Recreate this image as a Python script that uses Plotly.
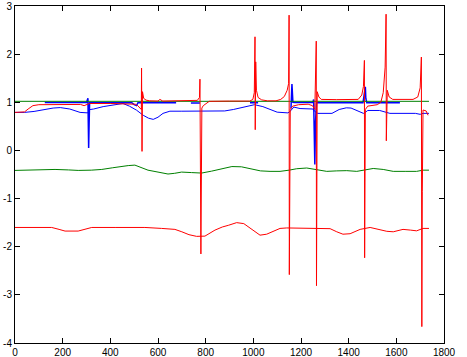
import plotly.graph_objects as go

# ---- data ----
green_low_x = [0, 50, 100, 168, 225, 265, 320, 364, 410, 447, 475, 503, 530, 558, 600, 642, 670, 699, 740, 783,
               825, 867, 910, 950, 990, 1030, 1070, 1112, 1150, 1182, 1224, 1266, 1308, 1350, 1392, 1434, 1476,
               1503, 1545, 1587, 1640, 1685, 1712, 1737]
green_low_y = [-0.415, -0.41, -0.40, -0.395, -0.405, -0.415, -0.41, -0.395, -0.36, -0.33, -0.315, -0.305, -0.35,
               -0.41, -0.45, -0.49, -0.475, -0.45, -0.46, -0.47, -0.43, -0.38, -0.335, -0.34, -0.38, -0.425,
               -0.435, -0.435, -0.41, -0.38, -0.365, -0.40, -0.435, -0.425, -0.42, -0.435, -0.395, -0.375,
               -0.395, -0.435, -0.435, -0.435, -0.41, -0.41]

red_low_x = [0, 154, 185, 210, 265, 300, 322, 420, 545, 615, 671, 700, 730, 762, 797, 839, 870, 895, 930, 960,
             990, 1028, 1056, 1085, 1112, 1140, 1322, 1350, 1376, 1406, 1448, 1490, 1531, 1560, 1587, 1628,
             1660, 1685, 1712, 1737]
red_low_y = [-1.60, -1.60, -1.64, -1.675, -1.675, -1.63, -1.60, -1.60, -1.60, -1.62, -1.64, -1.69, -1.75, -1.785,
             -1.78, -1.655, -1.59, -1.556, -1.50, -1.52, -1.62, -1.76, -1.74, -1.67, -1.62, -1.61, -1.625,
             -1.69, -1.74, -1.73, -1.64, -1.60, -1.655, -1.68, -1.69, -1.64, -1.655, -1.67, -1.62, -1.62]

blue_mid_x = [0, 40, 80, 120, 160, 190, 230, 273, 305, 315, 330, 370, 411, 453, 480, 510, 538, 560, 580, 600,
              621, 650, 700, 846, 880, 916, 950, 980, 1005, 1040, 1075, 1100, 1145, 1152, 1170, 1196, 1250,
              1260, 1270, 1330, 1360, 1390, 1410, 1440, 1462, 1472, 1480, 1530, 1573, 1680, 1700, 1712, 1737]
blue_mid_y = [0.79, 0.79, 0.81, 0.85, 0.88, 0.89, 0.86, 0.79, 0.78, 0.85, 0.86, 0.91, 0.94, 0.975, 0.92, 0.836,
              0.73, 0.67, 0.645, 0.69, 0.77, 0.815, 0.815, 0.81, 0.82, 0.85, 0.89, 0.93, 0.95, 0.91, 0.84, 0.795,
              0.78, 0.80, 0.90, 0.87, 0.86, 0.80, 0.77, 0.77, 0.85, 0.885, 0.88, 0.81, 0.77, 0.80, 0.83, 0.83,
              0.77, 0.77, 0.75, 0.77, 0.77]

blue_top_x = [125, 200, 300, 306, 309, 311, 313, 320, 400, 490, 500, 510, 516, 524, 600, 676, None, 738, 776,
              None, 986, 1020, None, 1158, 1162, 1166, 1175, 1208, 1225, 1250, 1253, 1256, 1258, 1261, 1265,
              1300, 1460, 1470, 1472, 1476, 1615]
blue_top_y = [0.995, 0.995, 0.995, 1.085, 0.05, 0.56, 0.99, 0.99, 0.99, 0.99, 0.95, 0.93, 0.99, 0.99, 0.99,
              0.99, None, 0.985, 0.985, None, 0.99, 0.99, None, 0.87, 1.38, 1.0, 0.995, 0.995, 0.995, 0.995,
              1.06, 0.32, -0.29, 0.6, 0.99, 0.99, 0.99, 1.32, 1.08, 0.99, 0.99]

green_top_x = [0, 1737]
green_top_y = [1.02, 1.02]

red_top_x = [0, 20, 40, 55, 75, 100, 170, 275, 290, 300, 312, 400, 490, 505, 515, 525, 530, 531, 533, 535, 540,
             550, 565, 600, 608, 620, 740, 765, 774, 776, 780, 782, 784, 790, 800, 815, 900, 985, 998, 1004,
             1007, 1008, 1010, 1013, 1020, 1035, 1060, 1095, 1115, 1130, 1142, 1148, 1150, 1151, 1153, 1155,
             1165, 1190, 1230, 1248, 1258, 1264, 1265, 1268, 1275, 1285, 1350, 1410, 1425, 1440, 1455, 1462,
             1466, 1467, 1470, 1480, 1520, 1535, 1545, 1553, 1557, 1558, 1562, 1570, 1585, 1670, 1690, 1700,
             1705, 1707, 1709, 1712, 1725, 1733]
red_top_y = [0.79, 0.79, 0.80, 0.86, 0.93, 0.95, 0.955, 0.955, 0.93, 0.95, 0.975, 0.975, 0.975, 0.96, 0.93,
             0.88, 0.85, 1.71, -0.02, 1.22, 1.08, 1.045, 1.03, 1.025, 1.06, 1.025, 1.025, 1.04, 1.10, 1.48,
             -2.15, -0.34, 0.88, 0.93, 0.97, 1.02, 1.025, 1.025, 1.06, 1.2, 2.36, 0.43, 1.84, 1.25, 1.1, 1.05,
             1.03, 1.03, 1.06, 1.12, 1.25, 1.39, 2.81, -2.58, -1.22, 0.85, 0.92, 0.95, 0.96, 0.93, 0.85, 2.27,
             -2.81, 1.22, 1.11, 1.06, 1.055, 1.055, 1.07, 1.06, 1.15, 1.33, 1.87, -2.23, 0.85, 0.92, 0.95,
             1.0, 1.2, 1.73, 2.83, 0.2, 1.25, 1.11, 1.06, 1.06, 1.11, 1.3, 1.94, -3.66, -0.86, 0.84, 0.82, 0.73]

x_ticks = [0, 200, 400, 600, 800, 1000, 1200, 1400, 1600, 1800]
y_ticks = [-4, -3, -2, -1, 0, 1, 2, 3]

RED = "#ff0000"
BLUE = "#0000ff"
GREEN = "#008000"

fig = go.Figure()
fig.add_trace(go.Scatter(x=green_low_x, y=green_low_y, mode="lines", line=dict(color=GREEN, width=1)))
fig.add_trace(go.Scatter(x=red_low_x, y=red_low_y, mode="lines", line=dict(color=RED, width=1)))
fig.add_trace(go.Scatter(x=blue_mid_x, y=blue_mid_y, mode="lines", line=dict(color=BLUE, width=1)))
fig.add_trace(go.Scatter(x=blue_top_x, y=blue_top_y, mode="lines", line=dict(color=BLUE, width=1.5),
                         connectgaps=False))
fig.add_trace(go.Scatter(x=green_top_x, y=green_top_y, mode="lines", line=dict(color=GREEN, width=1)))
fig.add_trace(go.Scatter(x=red_top_x, y=red_top_y, mode="lines", line=dict(color=RED, width=1)))

axis_common = dict(showgrid=False, zeroline=False, showline=True, linecolor="black", linewidth=1,
                   mirror="ticks", ticks="inside", ticklen=5, tickcolor="black", tickwidth=1,
                   tickfont=dict(family="Liberation Sans, Arial, sans-serif", size=10, color="black"),
                   automargin=False)

fig.update_layout(
    width=467, height=357,
    margin=dict(l=15, r=23, t=6, b=14),
    paper_bgcolor="white", plot_bgcolor="white",
    showlegend=False,
    xaxis=dict(range=[0, 1800], tickvals=x_ticks, ticktext=[str(v) for v in x_ticks], **axis_common),
    yaxis=dict(range=[-4, 3], tickvals=y_ticks, ticktext=[str(v) for v in y_ticks], **axis_common),
)

fig.write_html("out.html", config={"displayModeBar": False},
               post_script="document.body.style.margin='0';document.body.style.overflow='hidden';")
